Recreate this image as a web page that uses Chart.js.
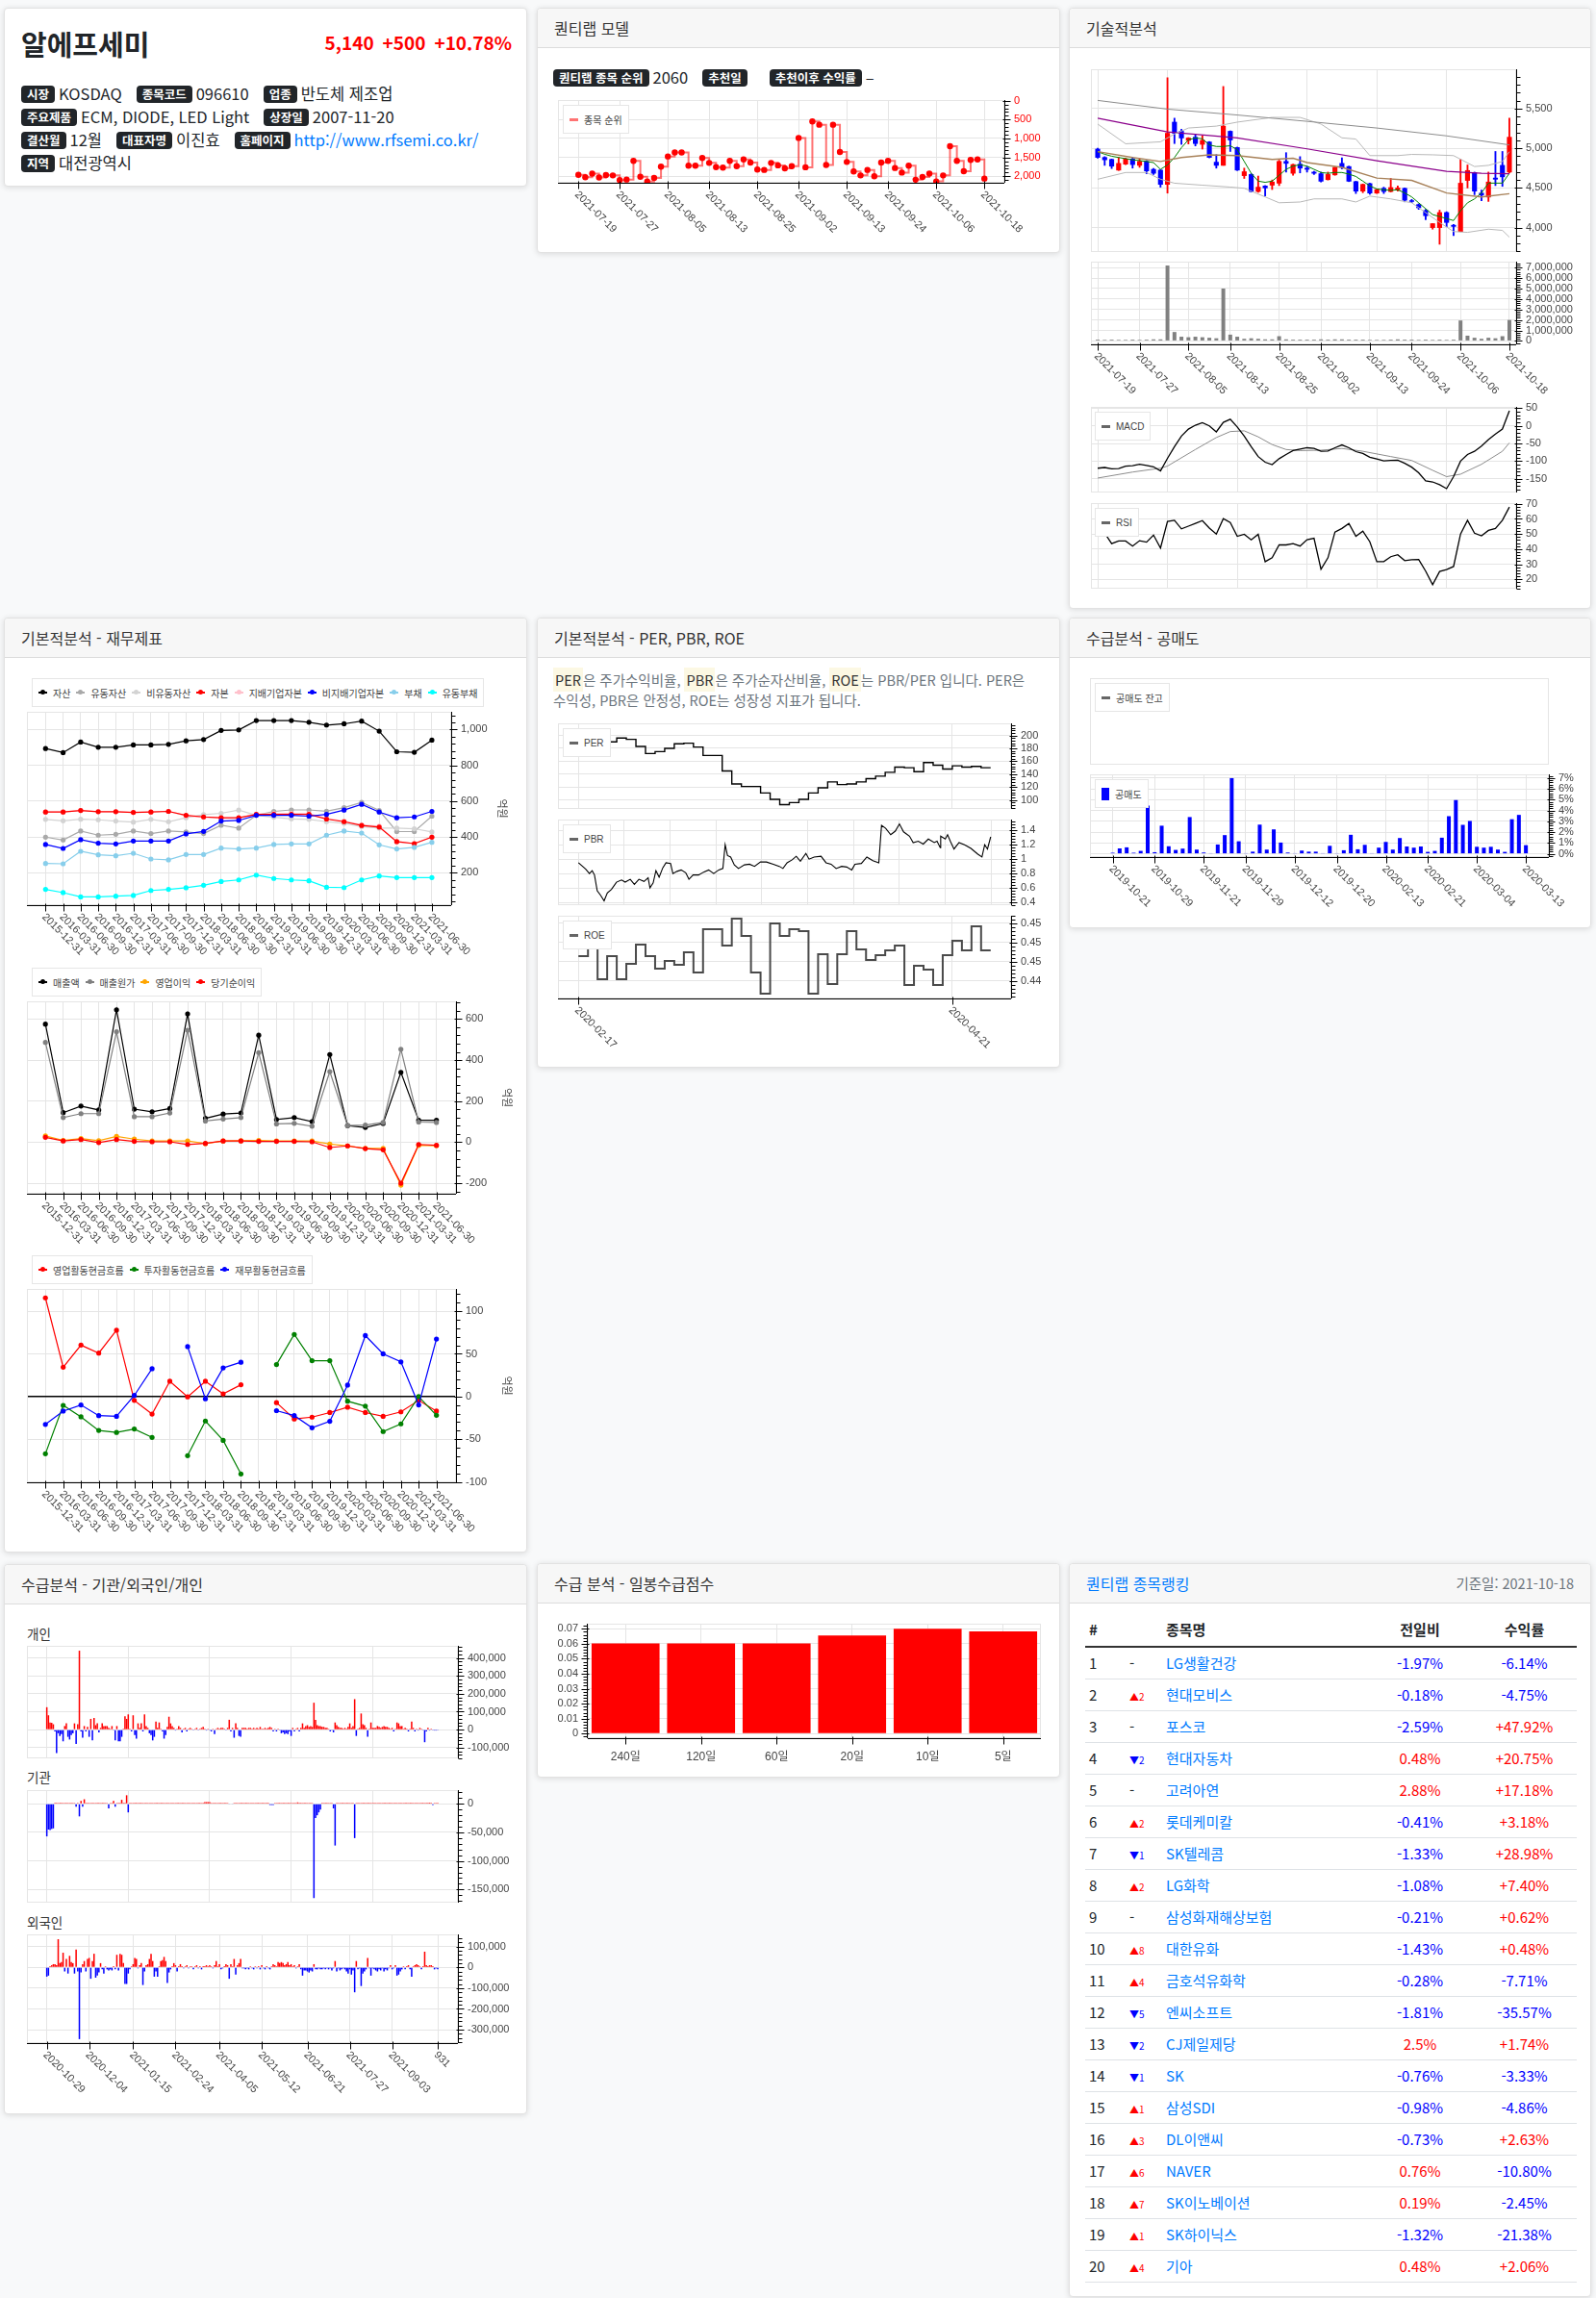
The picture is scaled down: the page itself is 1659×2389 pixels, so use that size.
<!DOCTYPE html>
<html lang="ko">
<head>
<meta charset="utf-8">
<title>알에프세미 - 종목분석</title>
<script src="https://cdn.jsdelivr.net/npm/chart.js@4.4.1/dist/chart.umd.min.js"></script>
<style>
  * { box-sizing: border-box; }
  body { margin: 0; background: #f8f9fa; font-family: "Noto Sans CJK KR", "Noto Sans", sans-serif; color: #212529; }
  #page { position: relative; width: 1659px; height: 2389px; }
  .card { position: absolute; background: #fff; border: 1px solid #e2e2e2; border-radius: 4px; box-shadow: 0 1px 6px rgba(0,0,0,.13); }
  .hd { height: 41px; line-height: 40px; padding: 0 17px; background: #f7f7f7; border-bottom: 1px solid #dcdcdc; font-size: 16px; color: #333; border-radius: 4px 4px 0 0; }
  .hd .rt { float: right; color: #6c757d; font-size: 14.5px; }
  .bd { display: inline-block; background: #212529; color: #fff; font-weight: 700; font-size: 12.5px; line-height: 18px; padding: 0 6px; border-radius: 4px; vertical-align: 1px; }
  .v { font-size: 16.5px; margin: 0 15px 0 4px; color: #212529; text-decoration: none; }
  a.v { color: #007bff; }
  .cv { position: absolute; }
  .lg { position: absolute; background: #fff; border: 1px solid #e6e6e6; height: 30px; padding: 0 6px; display: flex; align-items: center; gap: 6px; font-size: 10px; font-family: "Liberation Sans", "Noto Sans CJK KR", sans-serif; color: #444; white-space: nowrap; }
  .it { display: flex; align-items: center; }
  .sw { display: inline-block; margin-right: 6px; background: var(--c); position: relative; }
  .sw.line { width: 9px; height: 3px; }
  .sw.dot { width: 9px; height: 1.5px; }
  .sw.dot::after { content: ''; position: absolute; left: 2px; top: -2px; width: 5px; height: 5px; border-radius: 50%; background: var(--c); }
  .sw.rect { width: 8px; height: 13px; }
  .sub { position: absolute; left: 23px; font-size: 13.5px; color: #333; line-height: 20px; }
  .desc { position: absolute; left: 16px; top: 53px; font-size: 14.5px; line-height: 21px; color: #6c757d; white-space: nowrap; }
  .mk { background: #fcf8e3; color: #333; padding: 2px 2px; }
  table.rk { position: absolute; left: 16px; top: 41px; width: 511px; border-collapse: collapse; font-size: 15px; table-layout: fixed; }
  table.rk th { height: 45px; vertical-align: bottom; padding: 0 0 7px 0; border-bottom: 2px solid #333; font-weight: 700; text-align: left; }
  table.rk td { height: 33px; padding: 0; border-bottom: 1px solid #dee2e6; }
  table.rk .c { text-align: center; }
  table.rk .nm { color: #007bff; }
  .mv { font-size: 10px; }
</style>
</head>
<body>
<div id="page">

  <div class="card" id="c1" style="left:4px;top:8px;width:544px;height:186px">
    <div style="position:absolute;left:17px;top:16px;font-size:29px;font-weight:700;line-height:40px">알에프세미</div>
    <div style="position:absolute;right:15px;top:20px;font-size:19px;font-weight:700;line-height:30px;color:#ff0000">5,140<span style="margin-left:9px">+500</span><span style="margin-left:9px">+10.78%</span></div>
    <div style="position:absolute;left:17px;top:76px;line-height:24px;white-space:nowrap">
      <div><b class="bd">시장</b><span class="v">KOSDAQ</span><b class="bd">종목코드</b><span class="v">096610</span><b class="bd">업종</b><span class="v">반도체 제조업</span></div>
      <div><b class="bd">주요제품</b><span class="v">ECM, DIODE, LED Light</span><b class="bd">상장일</b><span class="v">2007-11-20</span></div>
      <div><b class="bd">결산월</b><span class="v">12월</span><b class="bd">대표자명</b><span class="v">이진효</span><b class="bd">홈페이지</b><a class="v" href="#">http://www.rfsemi.co.kr/</a></div>
      <div><b class="bd">지역</b><span class="v">대전광역시</span></div>
    </div>
  </div>

  <div class="card" id="c2" style="left:558px;top:8px;width:544px;height:255px">
    <div class="hd">퀀티랩 모델</div>
    <div style="position:absolute;left:16px;top:59px;line-height:24px;white-space:nowrap">
      <b class="bd">퀀티랩 종목 순위</b><span class="v">2060</span><b class="bd">추천일</b><span class="v"></span><b class="bd" style="margin-left:4px">추천이후 수익률</b><span class="v">–</span>
    </div>
  </div>

  <div class="card" id="c3" style="left:1111px;top:8px;width:543px;height:625px">
    <div class="hd">기술적분석</div>
  </div>

  <div class="card" id="c4" style="left:4px;top:642px;width:544px;height:972px">
    <div class="hd">기본적분석 - 재무제표</div>
  </div>

  <div class="card" id="c5" style="left:558px;top:642px;width:544px;height:468px">
    <div class="hd">기본적분석 - PER, PBR, ROE</div>
    <div class="desc"><span class="mk">PER</span>은 주가수익비율, <span class="mk">PBR</span>은 주가순자산비율, <span class="mk">ROE</span>는 PBR/PER 입니다. PER은<br>수익성, PBR은 안정성, ROE는 성장성 지표가 됩니다.</div>
  </div>

  <div class="card" id="c6" style="left:1111px;top:642px;width:543px;height:323px">
    <div class="hd">수급분석 - 공매도</div>
  </div>

  <div class="card" id="c7" style="left:4px;top:1626px;width:544px;height:572px">
    <div class="hd">수급분석 - 기관/외국인/개인</div>
    <div class="sub" style="top:61px">개인</div>
    <div class="sub" style="top:210px">기관</div>
    <div class="sub" style="top:361px">외국인</div>
  </div>

  <div class="card" id="c8" style="left:558px;top:1625px;width:544px;height:223px">
    <div class="hd">수급 분석 - 일봉수급점수</div>
  </div>

  <div class="card" id="c9" style="left:1111px;top:1625px;width:543px;height:763px">
    <div class="hd"><span style="color:#007bff">퀀티랩 종목랭킹</span><span class="rt">기준일: 2021-10-18</span></div>
    <table class="rk" id="rank">
      <colgroup><col style="width:42px"><col style="width:42px"><col style="width:210px"><col style="width:108px"><col style="width:109px"></colgroup>
      <thead><tr><th style="padding-left:4px">#</th><th></th><th>종목명</th><th class="c">전일비</th><th class="c">수익률</th></tr></thead>
      <tbody></tbody>
    </table>
  </div>

</div>
<script>
// ---------------- data ----------------
// trading-day axis 2021-07-19 .. 2021-10-18 (60 sessions)
const tradeTicks = [0, 6, 13, 19, 26, 32, 39, 45, 52, 59];
const tradeTickLabels = ['2021-07-19', '2021-07-27', '2021-08-05', '2021-08-13', '2021-08-25', '2021-09-02', '2021-09-13', '2021-09-24', '2021-10-06', '2021-10-18'];
const tradeGrid = [0, 10, 20, 30, 40, 50];

// 퀀티랩 종목 순위
const rankSeries = [1960, 2025, 1930, 2030, 1965, 1975, 2100, 2085, 1590, 2010,
  2140, 2040, 1745, 1475, 1370, 1370, 1720, 1720, 1515, 1645,
  1755, 1770, 1590, 1730, 1555, 1635, 1820, 1830, 1645, 1710,
  1790, 1730, 985, 1760, 550, 635, 1700, 635, 1355, 1620,
  1870, 1975, 1830, 2000, 1635, 1590, 1780, 1900, 1720, 2090,
  2015, 1930, 2135, 1975, 1205, 1590, 1865, 1565, 1555, 2060];

// candles
const candleOpen = [4990, 4885, 4860, 4725, 4800, 4865, 4785, 4835, 4735, 4725,
  4545, 5330, 5215, 5100, 5140, 5050, 5080, 4825, 4785, 5215,
  5010, 4655, 4670, 4455, 4525, 4535, 4560, 4835, 4685, 4800,
  4750, 4700, 4680, 4605, 4665, 4810, 4770, 4580, 4460, 4555,
  4435, 4495, 4455, 4475, 4495, 4340, 4290, 4215, 4000, 4000,
  4190, 4030, 3950, 4595, 4695, 4435, 4385, 4625, 4785, 4700];
const candleClose = [4885, 4855, 4775, 4810, 4865, 4795, 4835, 4715, 4685, 4545,
  5190, 5190, 5130, 5130, 5060, 5100, 4885, 4785, 5280, 5105,
  4725, 4705, 4455, 4510, 4500, 4575, 4835, 4810, 4795, 4750,
  4735, 4685, 4585, 4670, 4760, 4760, 4585, 4460, 4545, 4435,
  4480, 4455, 4505, 4500, 4345, 4330, 4250, 4150, 4050, 4190,
  4065, 4015, 4560, 4720, 4460, 4410, 4575, 4610, 4640, 5140];
const candleHigh = [5000, 4895, 4865, 4885, 4875, 4885, 4870, 4845, 4745, 4730,
  5890, 5380, 5240, 5135, 5180, 5160, 5085, 4920, 5780, 5220,
  5015, 4750, 4680, 4650, 4530, 4600, 4850, 4945, 4800, 4895,
  4770, 4710, 4700, 4700, 4765, 4880, 4775, 4585, 4550, 4560,
  4485, 4510, 4620, 4525, 4500, 4355, 4300, 4230, 4050, 4220,
  4200, 4040, 4860, 4790, 4700, 4475, 4700, 4960, 4960, 5380];
const candleLow = [4875, 4785, 4745, 4720, 4795, 4750, 4760, 4680, 4670, 4510,
  4435, 5060, 5050, 5055, 5030, 4990, 4880, 4750, 4785, 4960,
  4720, 4620, 4450, 4445, 4400, 4480, 4530, 4700, 4660, 4690,
  4700, 4670, 4575, 4600, 4660, 4740, 4580, 4430, 4440, 4420,
  4430, 4430, 4450, 4460, 4325, 4315, 4230, 4100, 3980, 3790,
  4010, 3900, 3950, 4500, 4415, 4340, 4330, 4530, 4520, 4690];
const ma5 = [4958, 4925, 4900, 4884, 4870, 4855, 4845, 4834, 4820, 4735,
  4790, 4884, 5008, 5107, 5130, 5120, 5043, 5023, 5023, 5033,
  4983, 4834, 4685, 4586, 4571, 4586, 4660, 4735, 4775, 4794,
  4775, 4735, 4695, 4685, 4695, 4695, 4675, 4645, 4586, 4526,
  4487, 4477, 4470, 4477, 4437, 4387, 4313, 4238, 4164, 4139,
  4114, 4089, 4213, 4313, 4362, 4437, 4561, 4561, 4561, 4685];
const ma20X = [0, 5, 9, 12, 16, 20, 25, 28, 30, 35, 40, 45, 50, 55, 59];
const ma20 = [4958, 4884, 4834, 4884, 4918, 4908, 4859, 4874, 4820, 4760, 4625, 4596, 4437, 4387, 4427];
const ma60X = [0, 10, 20, 30, 40, 50, 55, 59];
const ma60 = [5380, 5206, 5132, 4993, 4844, 4710, 4685, 4680];
const ma120X = [0, 10, 20, 30, 40, 50, 59];
const ma120 = [5604, 5494, 5420, 5340, 5256, 5157, 5043];
const bbUpX = [0, 4, 9, 11, 13, 17, 20, 25, 29, 32, 35, 37, 39, 43, 45, 48, 51, 54, 56, 58, 59];
const bbUp = [5306, 5057, 5082, 5180, 5256, 5280, 5330, 5390, 5390, 5306, 5132, 5117, 4908, 4908, 4923, 4918, 4908, 4770, 4785, 4834, 4958];
const bbLoX = [0, 4, 7, 9, 11, 15, 19, 21, 24, 26, 29, 31, 35, 37, 39, 42, 45, 47, 49, 51, 53, 56, 58, 59];
const bbLo = [4610, 4695, 4695, 4610, 4560, 4535, 4511, 4496, 4387, 4313, 4323, 4362, 4362, 4323, 4397, 4362, 4313, 4189, 4065, 3950, 3940, 3980, 3965, 3880];
// volume, million shares
const volumeM = [0.12, 0.1, 0.12, 0.1, 0.1, 0.12, 0.1, 0.12, 0.15, 0.15,
  7.2, 0.85, 0.4, 0.35, 0.4, 0.35, 0.3, 0.25, 5.0, 0.6,
  0.4, 0.2, 0.25, 0.2, 0.15, 0.15, 0.45, 0.15, 0.12, 0.12,
  0.12, 0.12, 0.15, 0.12, 0.15, 0.15, 0.12, 0.12, 0.12, 0.1,
  0.1, 0.1, 0.12, 0.15, 0.12, 0.12, 0.1, 0.12, 0.1, 0.12,
  0.1, 0.12, 1.95, 0.5, 0.3, 0.2, 0.3, 0.25, 0.45, 2.0];
const macd = [-120, -118, -122, -121, -114, -113, -109, -112, -116, -128,
  -92, -59, -29, -9, 2, 9, 0, -17, 10, 19,
  -3, -29, -59, -87, -103, -110, -93, -81, -70, -66,
  -62, -64, -72, -71, -62, -54, -62, -73, -78, -89,
  -94, -99, -98, -97, -106, -117, -133, -156, -159, -167,
  -178, -144, -100, -81, -72, -57, -39, -23, -9, 43];
const signalX = [0, 5, 9, 10, 14, 17, 19, 21, 23, 25, 27, 29, 32, 35, 38, 42, 45, 48, 50, 52, 55, 58, 59];
const signal = [-148, -131, -120, -114, -67, -33, -16, -14, -31, -53, -67, -70, -69, -64, -72, -87, -98, -126, -144, -137, -109, -72, -48];
const rsi = [54.5, 50.6, 43.6, 45.4, 45.4, 42, 45.6, 44.6, 49.3, 40.7,
  58.3, 59.1, 53.4, 55.2, 57, 58.9, 53.9, 50, 60.2, 57.6,
  48.5, 49.8, 46.2, 49.8, 31.7, 34.3, 42.8, 42.8, 43.6, 42,
  46.2, 47.2, 26.7, 34.3, 51.3, 53.7, 57, 48.5, 51.9, 44.9,
  31.7, 31.7, 35, 36.3, 32.4, 33, 33.2, 25.4, 16.4, 25.2,
  26.5, 28.5, 50, 59.1, 50.6, 48.8, 52.4, 53.7, 59.1, 67.9];

// 재무제표 (억원), quarterly
const quarters = ['2015-12-31', '2016-03-31', '2016-06-30', '2016-09-30', '2016-12-31', '2017-03-31', '2017-06-30', '2017-09-30', '2017-12-31', '2018-03-31', '2018-06-30', '2018-09-30', '2018-12-31', '2019-03-31', '2019-06-30', '2019-09-30', '2019-12-31', '2020-03-31', '2020-06-30', '2020-09-30', '2020-12-31', '2021-03-31', '2021-06-30'];
const asset = [894, 871, 930, 901, 901, 914, 914, 917, 937, 944, 995, 998, 1050, 1050, 1050, 1041, 1025, 1032, 1047, 991, 876, 873, 941];
const curAsset = [399, 383, 433, 410, 415, 433, 419, 433, 428, 419, 465, 449, 521, 543, 551, 551, 544, 564, 593, 548, 430, 430, 516];
const nonCurAsset = [498, 490, 499, 496, 489, 483, 498, 485, 507, 525, 532, 550, 521, 510, 501, 498, 485, 476, 458, 449, 449, 446, 428];
const equity = [539, 539, 548, 541, 541, 537, 539, 543, 521, 512, 507, 507, 526, 526, 526, 526, 500, 485, 464, 455, 374, 363, 399];
const ctrlEquity = [539, 539, 548, 541, 541, 537, 539, 543, 518, 510, 505, 505, 528, 530, 532, 530, 503, 488, 467, 460, 372, 362, 400];
const nonCtrlEquity = [358, 336, 385, 365, 361, 377, 377, 377, 417, 431, 489, 492, 521, 521, 521, 516, 526, 550, 582, 539, 507, 512, 543];
const liab = [252, 250, 320, 300, 295, 309, 277, 272, 302, 302, 338, 333, 338, 358, 361, 361, 410, 433, 422, 356, 333, 342, 370];
const curLiab = [107, 89, 65, 65, 69, 73, 101, 107, 116, 130, 151, 160, 187, 168, 160, 155, 119, 117, 160, 182, 173, 173, 173];
const sales = [575, 144, 176, 157, 645, 161, 148, 164, 625, 116, 137, 142, 521, 111, 120, 100, 427, 81, 72, 91, 340, 107, 107];
const cogs = [486, 120, 139, 139, 538, 124, 124, 142, 545, 103, 113, 120, 436, 89, 92, 78, 344, 81, 83, 96, 453, 98, 96];
const opIncome = [31, 9, 18, 7, 28, 15, 6, 6, 6, -7, 6, 7, 9, 6, 6, 6, -9, -18, -30, -30, -209, -15, -17];
const netIncome = [24, 6, 13, -2, 13, 4, 2, 2, -11, -6, 6, 6, 4, 4, 4, 2, -26, -18, -31, -37, -200, -11, -15];
const cfOper = [115.6, 34.4, 60.3, 50.9, 77.7, -4.5, -20.5, 17.9, -0.4, 17.9, 3.1, 13.8, null, -7.1, -26.3, -24.1, -18.7, -12.5, -18.7, -23.2, -17.9, -4.5, -17];
const cfInvest = [-67, -10.3, -23.7, -39.7, -42, -38, -47.8, null, -69.2, -28.6, -51.3, -90.6, null, 37.5, 72.8, 42, 42, -5.4, -11.2, -41, -32, 0, -21.9];
const cfFinance = [-32.6, -17, -9.8, -22.3, -23.2, 1.3, 32.6, null, 58.5, -2.7, 33.5, 40.2, null, -16.5, -22.3, -36.6, -29, 13.4, 71.4, 50, 40.6, -9.8, 67.4];

// PER / ROE steps (one value per step), PBR points
const valTicks = [0, 39];
const valTickLabels = ['2020-02-17', '2020-04-21'];
const perSteps = [204, 202, 200, 190, 196, 194, 183, 172, 175, 180, 187, 188, 182, 169, 169, 145, 125, 121, 121, 111,
  101, 93, 96, 101, 111, 119, 128, 124, 125, 128, 133, 137, 143, 151, 150, 144, 158, 154, 148, 153, 151, 152, 150];
const roeSteps = [0.4466, 0.4481, 0.4442, 0.4466, 0.4442, 0.4458, 0.4478, 0.4466, 0.4453, 0.4461,
  0.4457, 0.4470, 0.4449, 0.4494, 0.4494, 0.4477, 0.4505, 0.4487, 0.4449, 0.4427,
  0.4500, 0.4487, 0.4494, 0.4492, 0.4427, 0.4468, 0.4437, 0.4468, 0.4492, 0.4473,
  0.4462, 0.4467, 0.4472, 0.4477, 0.4436, 0.4456, 0.4452, 0.4436, 0.4467, 0.4482,
  0.4472, 0.4497, 0.4472];
const pbrX = [0, 0.9, 1.6, 2.4, 3.0, 3.5, 4.1, 4.8, 5.6, 6.3, 7.2, 8.3, 9.4, 10.2, 11.3, 12.2, 13.2, 14.3, 15.2, 15.6,
  16.3, 16.9, 17.6, 18.4, 19.1, 20.1, 20.6, 21.5, 22.4, 23.4, 24.1, 25.0, 26.2, 27.3, 28.4, 29.5, 30.6, 31.5, 32.0, 32.5,
  33.2, 34.0, 34.9, 36.2, 37.3, 38.4, 39.7, 41.0, 42.5, 43.8, 44.6, 45.5, 46.6, 47.5, 48.4, 49.6, 50.3, 51.4, 52.9, 54.0,
  55.1, 56.2, 57.4, 58.5, 59.6, 60.3, 61.7, 62.9, 64.2, 65.5, 66.1, 67.0, 68.1, 69.1, 70.0, 70.9, 72.2, 73.0, 74.1, 75.2,
  76.3, 77.6, 78.2, 78.9, 79.0, 80.0, 80.5, 81.1, 81.9, 83.0, 84.2, 85.6, 87.1, 88.0, 88.6, 89.2, 89.9];
const pbrY = [0.95, 0.90, 0.86, 0.80, 0.84, 0.78, 0.56, 0.50, 0.42, 0.53, 0.58, 0.68, 0.71, 0.68, 0.72, 0.65, 0.72, 0.69, 0.74, 0.60,
  0.67, 0.84, 0.75, 0.88, 0.95, 0.94, 0.80, 0.83, 0.85, 0.81, 0.72, 0.78, 0.78, 0.82, 0.85, 0.80, 0.85, 0.87, 1.20, 1.05,
  1.03, 0.92, 0.87, 0.92, 0.93, 0.90, 0.96, 0.96, 0.93, 0.90, 0.87, 0.95, 0.99, 1.04, 0.97, 1.08, 1.00, 1.03, 1.04, 0.95,
  0.93, 0.87, 0.90, 0.89, 0.85, 0.93, 0.94, 1.03, 0.98, 0.95, 1.47, 1.43, 1.34, 1.39, 1.49, 1.38, 1.32, 1.23, 1.25, 1.21,
  1.28, 1.23, 1.25, 1.16, 1.32, 1.28, 1.34, 1.25, 1.14, 1.23, 1.20, 1.15, 1.07, 1.03, 1.20, 1.14, 1.31];

// 공매도 비중 (%)
const shortTicks = [0, 6, 13, 19, 26, 32, 39, 45, 52, 59];
const shortTickLabels = ['2019-10-21', '2019-10-29', '2019-11-21', '2019-11-29', '2019-12-12', '2019-12-20', '2020-02-13', '2020-02-21', '2020-03-04', '2020-03-13'];
const shortRatio = [0.1, 0.5, 0.6, 0.1, 0.27, 4.46, 0.15, 2.6, 0.7, 0.36,
  0.48, 3.4, 0.39, 0.12, 0.06, 0.86, 1.73, 7.0, 1.16, 0.06,
  0.2, 2.7, 0.39, 2.26, 1.04, 0.12, 0.06, 0.3, 0.2, 0.2,
  0.06, 0.74, 0.06, 0.33, 1.76, 0.42, 0.83, 0.06, 0.57, 1.1,
  0.39, 1.46, 0.68, 0.57, 0.68, 0.18, 0.27, 1.49, 3.48, 4.97,
  2.68, 3.04, 0.65, 0.57, 0.65, 0.39, 0.18, 3.2, 3.6, 0.8];

// 순매수 (천주), daily from 2020-10-29
const flowTicks = [0, 26, 53, 79, 106, 132, 160, 186, 212, 240];
const flowTickLabels = ['2020-10-29', '2020-12-04', '2021-01-15', '2021-02-24', '2021-04-05', '2021-05-12', '2021-06-21', '2021-07-27', '2021-09-03', '931'];
const flowGrid = [0, 50, 100, 150, 200];
const flowIndiv = [125, 80, 40, 38, 30, -10, -130, -20, -35, -25,
  -65, 20, 35, -40, -55, -30, -20, 35, -80, 30,
  440, -10, -45, 20, -10, 15, -40, 60, -60, 65,
  25, 35, -15, 10, 35, 20, 20, 20, 10, 5,
  20, -5, -60, 20, -65, -65, -40, 5, 75, 60,
  85, 5, -10, 80, -30, -50, 35, 10, 35, -10,
  85, 20, 10, -20, -30, -60, -40, 45, 10, 40,
  5, -10, -50, -30, 15, 72, 35, 20, 10, -5,
  5, 20, 10, -15, 5, 10, -10, 5, 10, 5,
  -5, 5, 10, -5, 5, 10, 15, 5, -5, 5,
  -5, -10, 5, -25, 5, 10, 5, 10, 10, 5,
  -5, 10, 55, -10, 10, -45, 35, 10, -35, -40,
  10, 10, 10, 5, 10, 10, 5, 10, 5, 10,
  5, 15, 5, 5, 10, 5, 10, 15, 10, -10,
  5, -10, 5, -5, -20, -15, -25, -20, -25, -10,
  -35, 10, -10, 5, 10, -10, 10, 35, 10, 20,
  25, 15, 20, 15, 150, 55, 25, 20, 20, 15,
  15, 10, 10, 5, -10, -5, -15, 40, 25, 15,
  10, 10, 5, 10, 5, 15, 35, 10, 20, 170,
  -35, 5, 10, 90, 30, 25, 10, -40, 5, 40,
  10, 10, 10, 20, 15, 10, 15, 20, 15, 15,
  10, 5, 10, -10, 5, 40, 35, 20, 20, 5,
  10, 5, -10, 5, 45, 10, -10, 5, -5, 10,
  5, -5, -70, -10, 10, -5, 5, -5, -5, -5,
  -5];
const flowInst = [-57, -45, -46, -44, -43, 1.5, 1.5, 1.5, 1.5, 1.5,
  1.5, 1.5, 1.5, 1.5, 1.5, 1.5, 1.5, 1.5, -5, 1.5,
  -22, 5, -5, 8, 1.5, 1.5, 1.5, 1.5, 1.5, 1.5,
  1.5, 1.5, 1.5, 1.5, 1.5, 1.5, 1.5, 1.5, -8, 1.5,
  1.5, 5, -5, 1.5, 1.5, 1.5, 7, 1.5, 1.5, 15,
  -15, 1.5, 1.5, 1.5, 1.5, 1.5, 1.5, 1.5, 1.5, 1.5,
  1.5, 1.5, 1.5, 1.5, 1.5, 1.5, 1.5, 1.5, 1.5, 1.5,
  1.5, 1.5, 1.5, 1.5, 1.5, 1.5, 1.5, 1.5, 1.5, 1.5,
  1.5, 1.5, 1.5, 1.5, 1.5, 1.5, 1.5, 1.5, 1.5, 1.5,
  1.5, 1.5, 1.5, 1.5, 1.5, 1.5, 1.5, 3, 3, 3,
  3, 1.5, 1.5, 1.5, 1.5, 1.5, 1.5, 1.5, 1.5, 1.5,
  1.5, 1.5, -1, -1, -1, 1.5, 1.5, 1.5, 1.5, 1.5,
  1.5, 1.5, 1.5, 1.5, 1.5, 1.5, 1.5, 1.5, 1.5, 1.5,
  1.5, 1.5, 1.5, 1.5, 1.5, 1.5, 1.5, -2, -2, -2,
  1.5, 1.5, 1.5, 1.5, 1.5, 1.5, 1.5, 1.5, 1.5, 1.5,
  1.5, 1.5, 1.5, 1.5, 2.5, 1.5, 1.5, 1.5, 1.5, 1.5,
  1.5, 1.5, 1.5, 1.5, -165, -25, -20, -15, -10, 1.5,
  1.5, 1.5, 1.5, 1.5, 1.5, 1.5, -8, -73, 1.5, 1.5,
  1.5, 1.5, 1.5, 1.5, 1.5, 1.5, 1.5, 1.5, 1.5, -60,
  1.5, 1.5, 1.5, 1.5, 1.5, 1.5, 1.5, 1.5, 1.5, 1.5,
  1.5, 1.5, 1.5, 1.5, 1.5, 1.5, 1.5, 1.5, 1.5, 1.5,
  1.5, 1.5, 1.5, 1.5, 1.5, 1.5, 1.5, 1.5, 1.5, 1.5,
  1.5, 1.5, 1.5, 1.5, 1.5, 1.5, 1.5, 1.5, 1.5, 1.5,
  1.5, 1.5, 1.5, 1.5, 1.5, 2, 1.5, -2, 1.5, 1.5,
  1.5];
const flowForeign = [-45, -40, 5, 10, 15, 15, 10, 135, 20, 25,
  70, -20, 40, -30, 55, 25, 20, -30, 85, -20,
  -345, -25, 15, 30, -20, 40, 45, -55, 30, 65,
  -50, -40, -25, 20, -10, -30, 5, -10, -15, -10,
  -15, 5, -10, 60, -15, 65, 60, 20, -80, -80,
  -30, -10, 5, 15, 45, 40, -5, 10, 20, -85,
  -20, 10, 15, 40, 65, 30, -45, -20, -45, 5,
  30, 35, 50, 30, -75, -25, -10, 5, 20, 10,
  -20, 5, 15, 5, -5, 5, 10, -5, 5, 5,
  -10, 5, 10, -5, 5, -10, 5, 5, 10, 5,
  10, 5, -5, 10, 30, 5, 15, -10, -5, 5,
  15, 10, -55, 15, 5, 40, -35, 10, 20, 40,
  -5, -5, -10, -5, -10, 5, -5, -10, 5, -5,
  5, -10, 10, -5, -10, 5, -5, -10, 5, 15,
  10, 5, 25, 20, 25, 20, 10, 15, 25, 10,
  15, 5, 10, -5, 5, 15, -10, -40, -15, -15,
  -20, -25, -15, -20, 15, -10, -10, -5, -10, -10,
  -5, -10, -5, -10, -5, -15, -5, 30, -20, -5,
  -15, -10, -5, -10, -20, -30, -10, -35, -15, -120,
  30, -10, -5, -90, -30, -20, -10, 45, -5, -40,
  -5, -10, -15, -20, -10, -15, -5, -20, -10, -15,
  -5, 10, -10, -5, 10, -40, -35, -20, -10, 5,
  -10, 5, 10, -10, -45, 5, 10, 15, 10, 5,
  -10, 5, 75, 10, 5, 10, 10, 5, -10, -5,
  -10];

// 일봉수급점수
const scoreLabels = ['240일', '120일', '60일', '20일', '10일', '5일'];
const scoreValues = [0.0603, 0.0603, 0.0603, 0.0656, 0.0700, 0.0682];

// 종목랭킹
const rankNames = ['LG생활건강', '현대모비스', '포스코', '현대자동차', '고려아연', '롯데케미칼', 'SK텔레콤', 'LG화학', '삼성화재해상보험', '대한유화', '금호석유화학', '엔씨소프트', 'CJ제일제당', 'SK', '삼성SDI', 'DL이앤씨', 'NAVER', 'SK이노베이션', 'SK하이닉스', '기아'];
const rankMoves = [0, 2, 0, -2, 0, 2, -1, 2, 0, 8, 4, -5, -2, -1, 1, 3, 6, 7, 1, 4];
const rankDayChg = [-1.97, -0.18, -2.59, 0.48, 2.88, -0.41, -1.33, -1.08, -0.21, -1.43, -0.28, -1.81, 2.5, -0.76, -0.98, -0.73, 0.76, 0.19, -1.32, 0.48];
const rankReturn = [-6.14, -4.75, 47.92, 20.75, 17.18, 3.18, 28.98, 7.40, 0.62, 0.48, -7.71, -35.57, 1.74, -3.33, -4.86, 2.63, -10.80, -2.45, -21.38, 2.06];

// ---------------- helpers ----------------
const idxPts = ys => ys.map((y, i) => ({ x: i, y }));
const xyPts = (xs, ys) => xs.map((x, i) => ({ x, y: ys[i] }));
const stepPts = ys => idxPts(ys).concat([{ x: ys.length, y: ys[ys.length - 1] }]);
const fmtNum = v => v.toLocaleString('en-US');
const signColors = ys => ys.map(v => (v >= 0 ? '#ff0000' : '#0000ff'));

Chart.defaults.font.family = '"Liberation Sans", Arial, "Noto Sans CJK KR", sans-serif';
Chart.defaults.font.size = 11;
Chart.defaults.color = '#444';

// axis decorations in the style of the original plots (outline, axis line, major/minor ticks, slanted labels)
const AX = {};
Chart.register({
  id: 'bokeh',
  beforeDatasetsDraw(chart) {
    const a = chart.chartArea, ctx = chart.ctx;
    ctx.save();
    ctx.strokeStyle = '#e5e5e5';
    ctx.lineWidth = 1;
    ctx.strokeRect(Math.round(a.left) + 0.5, Math.round(a.top) + 0.5, Math.round(a.width) - 1, Math.round(a.height) - 1);
    ctx.restore();
  },
  afterDraw(chart) {
    const spec = AX[chart.canvas.id];
    if (!spec) return;
    const a = chart.chartArea, ctx = chart.ctx;
    const seg = (x1, y1, x2, y2) => { ctx.beginPath(); ctx.moveTo(x1, y1); ctx.lineTo(x2, y2); ctx.stroke(); };
    ctx.save();
    ctx.strokeStyle = '#000';
    ctx.lineWidth = 1;
    if (spec.y) {
      const s = chart.scales.y, left = spec.y.side === 'left';
      const ax = left ? Math.floor(a.left) - 0.5 : Math.round(a.right) + 0.5, d = left ? -1 : 1;
      seg(ax, a.top, ax, a.bottom);
      const tick = (v, len) => {
        const p = Math.round(s.getPixelForValue(v)) + 0.5;
        if (p < a.top - 1 || p > a.bottom + 1) return;
        seg(ax - (len > 4 ? 2 : 0) * d, p, ax + len * d, p);
      };
      s.ticks.forEach(t => tick(t.value, 6));
      if (spec.y.minor && s.ticks.length > 1) {
        const v0 = s.ticks[0].value, st = (s.ticks[1].value - v0) / spec.y.minor;
        const lo = Math.min(s.min, s.max), hi = Math.max(s.min, s.max);
        const n0 = Math.ceil((lo - v0) / st - 1e-6), n1 = Math.floor((hi - v0) / st + 1e-6);
        for (let n = n0; n <= n1; n++) if (n % spec.y.minor) tick(v0 + n * st, 4);
      }
    }
    if (spec.x) {
      const s = chart.scales.x, ay = Math.round(a.bottom) + 0.5;
      seg(a.left, ay, a.right, ay);
      s.ticks.forEach(t => { const p = Math.round(s.getPixelForValue(t.value)) + 0.5; seg(p, ay - 2, p, ay + 6); });
      if (spec.x.labels) {
        ctx.fillStyle = '#444';
        ctx.font = '11px "Liberation Sans", Arial, sans-serif';
        ctx.textAlign = 'left';
        ctx.textBaseline = 'middle';
        s.ticks.forEach((t, i) => {
          const p = s.getPixelForValue(t.value);
          ctx.save();
          ctx.translate(p - 2, ay + 10);
          ctx.rotate(Math.PI / 4);
          ctx.fillText(spec.x.labels[i], 0, 0);
          ctx.restore();
        });
      }
    }
    ctx.restore();
  }
});

const PAD = 10;
function mount(card, id, plot, ext) {
  const l = ext.l || 0, r = ext.r || 0, b = ext.b || 0;
  const el = document.createElement('div');
  el.className = 'cv';
  el.style.left = (plot[0] - PAD - l) + 'px';
  el.style.top = (plot[1] - PAD) + 'px';
  el.style.width = (plot[2] + l + r + 2 * PAD) + 'px';
  el.style.height = (plot[3] + b + 2 * PAD) + 'px';
  const c = document.createElement('canvas');
  c.id = id;
  el.appendChild(c);
  document.getElementById(card).appendChild(el);
  return c;
}

function yScale(o) {
  return {
    type: 'linear', position: o.left ? 'left' : 'right', min: o.min, max: o.max, reverse: !!o.reverse,
    afterBuildTicks: s => { s.ticks = o.ticks.map(v => ({ value: v })); },
    afterFit: s => { s.width = o.w; s.paddingTop = 0; s.paddingBottom = 0; },
    grid: {
      drawTicks: false,
      color: o.zeroLine ? c => (c.tick && c.tick.value === 0 ? '#000' : '#e5e5e5') : '#e5e5e5',
      lineWidth: o.zeroLine ? c => (c.tick && c.tick.value === 0 ? 1.6 : 1) : 1
    },
    border: { display: false },
    ticks: { padding: 10, autoSkip: false, color: o.color || '#444', callback: o.fmt || fmtNum },
    title: o.title
      ? { display: true, text: o.title, color: '#444', padding: 0, font: { size: 11, family: '"Noto Sans CJK KR", sans-serif' } }
      : { display: false }
  };
}
function xScale(o) {
  return {
    type: 'linear', min: o.min, max: o.max, offset: false,
    afterBuildTicks: s => { s.ticks = o.ticks.map(v => ({ value: v })); },
    afterFit: s => { s.height = o.h || 0; s.paddingLeft = 0; s.paddingRight = 0; },
    grid: { drawTicks: false, color: '#e5e5e5', offset: false },
    border: { display: false },
    ticks: { display: false }
  };
}
function make(card, id, plot, ext, axes, config) {
  const canvas = mount(card, id, plot, ext);
  AX[id] = axes;
  config.options = Object.assign({
    responsive: true, maintainAspectRatio: false, animation: false, events: [],
    layout: { padding: PAD },
    plugins: { legend: { display: false }, tooltip: { enabled: false } }
  }, config.options);
  return new Chart(canvas, config);
}
function legend(card, left, top, kind, items) {
  const d = document.createElement('div');
  d.className = 'lg';
  d.style.left = left + 'px';
  d.style.top = top + 'px';
  items.forEach(([name, color]) => {
    const it = document.createElement('span');
    it.className = 'it';
    const sw = document.createElement('i');
    sw.className = 'sw ' + kind;
    sw.style.setProperty('--c', color);
    it.appendChild(sw);
    it.appendChild(document.createTextNode(name));
    d.appendChild(it);
  });
  document.getElementById(card).appendChild(d);
}
const line = (data, color, extra) => Object.assign({ type: 'line', data, borderColor: color, borderWidth: 1, pointRadius: 0 }, extra || {});

// ---------------- 퀀티랩 모델 ----------------
make('c2', 'quant', [21, 95, 464, 86], { r: 45, b: 58 }, { y: { minor: 5 }, x: { labels: tradeTickLabels } }, {
  type: 'line',
  data: { datasets: [line(idxPts(rankSeries), 'rgba(255,0,0,0.55)', { borderWidth: 2, stepped: true, pointRadius: 3.2, pointBackgroundColor: '#ff0000', pointBorderWidth: 0 })] },
  options: { scales: {
    x: xScale({ min: -2.97, max: 61.9, ticks: tradeTicks, h: 58 }),
    y: yScale({ min: -17, max: 2170, reverse: true, ticks: [0, 500, 1000, 1500, 2000], w: 45, color: '#ff0000' })
  } }
});
legend('c2', 26, 100, 'line', [['종목 순위', 'rgba(255,0,0,0.55)']]);

// ---------------- 기술적분석 ----------------
const candleColors = candleClose.map((c, i) => (c >= candleOpen[i] ? '#ff0000' : '#0000ff'));
make('c3', 'candle', [22, 63, 442, 190], { r: 70 }, { y: { minor: 5 } }, {
  type: 'bar',
  data: { datasets: [
    line(xyPts(ma120X, ma120), '#8c8c8c', { order: 1 }),
    line(xyPts(bbUpX, bbUp), '#b8b8b8', { order: 1 }),
    line(xyPts(bbLoX, bbLo), '#b8b8b8', { order: 1 }),
    line(xyPts(ma60X, ma60), '#8b008b', { order: 1, borderWidth: 1.2 }),
    line(xyPts(ma20X, ma20), '#a8825a', { order: 1, borderWidth: 1.4 }),
    line(idxPts(ma5), '#008000', { order: 1 }),
    { type: 'bar', data: candleOpen.map((_, i) => ({ x: i, y: [candleLow[i], candleHigh[i]] })), backgroundColor: candleColors, barThickness: 1.2, grouped: false, order: 3 },
    { type: 'bar', data: candleOpen.map((_, i) => ({ x: i, y: [candleOpen[i], candleClose[i]] })), backgroundColor: candleColors, barThickness: 4.5, grouped: false, order: 2 }
  ] },
  options: { scales: {
    x: xScale({ min: -0.97, max: 59.97, ticks: tradeGrid }),
    y: yScale({ min: 3692, max: 5997, ticks: [4000, 4500, 5000, 5500], w: 70 })
  } }
});
make('c3', 'volume', [22, 263, 442, 86], { r: 70, b: 56 }, { y: { minor: 5 }, x: { labels: tradeTickLabels } }, {
  type: 'bar',
  data: { datasets: [{ data: idxPts(volumeM.map(v => v * 1e6)), backgroundColor: '#808080', barPercentage: 0.55, categoryPercentage: 1 }] },
  options: { scales: {
    x: xScale({ min: -0.97, max: 59.97, ticks: tradeTicks, h: 56 }),
    y: yScale({ min: -330000, max: 7570000, ticks: [0, 1e6, 2e6, 3e6, 4e6, 5e6, 6e6, 7e6], w: 70 })
  } }
});
make('c3', 'macd', [22, 414, 442, 89], { r: 70 }, { y: { minor: 5 } }, {
  type: 'line',
  data: { datasets: [
    line(idxPts(macd), '#000', { borderWidth: 1.3 }),
    line(xyPts(signalX, signal), '#8c8c8c')
  ] },
  options: { scales: {
    x: xScale({ min: -0.97, max: 59.97, ticks: tradeGrid }),
    y: yScale({ min: -189, max: 54, ticks: [-150, -100, -50, 0, 50], w: 70 })
  } }
});
legend('c3', 26, 419, 'line', [['MACD', '#666']]);
make('c3', 'rsi', [22, 514, 442, 89], { r: 70 }, { y: { minor: 5 } }, {
  type: 'line',
  data: { datasets: [line(idxPts(rsi), '#000', { borderWidth: 1.3 })] },
  options: { scales: {
    x: xScale({ min: -0.97, max: 59.97, ticks: tradeGrid }),
    y: yScale({ min: 13.8, max: 70.5, ticks: [20, 30, 40, 50, 60, 70], w: 70 })
  } }
});
legend('c3', 26, 519, 'line', [['RSI', '#666']]);

// ---------------- 재무제표 ----------------
const qTicks = quarters.map((_, i) => i);
function finSet(name, ys, color, order) {
  return { label: name, type: 'line', data: idxPts(ys), borderColor: color, backgroundColor: color, borderWidth: 1.2, pointRadius: 2.6, pointBorderWidth: 0, pointBackgroundColor: color, order };
}
const balanceSeries = [['자산', asset, '#000000'], ['유동자산', curAsset, '#a9a9a9'], ['비유동자산', nonCurAsset, '#d3d3d3'], ['자본', equity, '#ff0000'],
  ['지배기업자본', ctrlEquity, '#ffc0cb'], ['비지배기업자본', nonCtrlEquity, '#0000ff'], ['부채', liab, '#87ceeb'], ['유동부채', curLiab, '#00ffff']];
const drawRank = [0, -1, -2, -5, -3, -6, -7, -8];
make('c4', 'fin1', [23, 97, 441, 201], { r: 60, b: 58 }, { y: { minor: 5 }, x: { labels: quarters } }, {
  type: 'line',
  data: { datasets: balanceSeries.map((s, i) => finSet(s[0], s[1], s[2], drawRank[i])) },
  options: { scales: {
    x: xScale({ min: -1.06, max: 23.1, ticks: qTicks, h: 58 }),
    y: yScale({ min: 19, max: 1099, ticks: [200, 400, 600, 800, 1000], w: 60, title: '억원' })
  } }
});
legend('c4', 28, 62, 'dot', balanceSeries.map(s => [s[0], s[2]]));

const incomeSeries = [['매출액', sales, '#000000'], ['매출원가', cogs, '#808080'], ['영업이익', opIncome, '#ffa500'], ['당기순이익', netIncome, '#ff0000']];
make('c4', 'fin2', [23, 398, 446, 200], { r: 60, b: 58 }, { y: { minor: 5 }, x: { labels: quarters } }, {
  type: 'line',
  data: { datasets: incomeSeries.map((s, i) => finSet(s[0], s[1], s[2], -i)) },
  options: { scales: {
    x: xScale({ min: -1.04, max: 23.1, ticks: qTicks, h: 58 }),
    y: yScale({ min: -251, max: 686, ticks: [-200, 0, 200, 400, 600], w: 60, title: '억원' })
  } }
});
legend('c4', 28, 363, 'dot', incomeSeries.map(s => [s[0], s[2]]));

const cashSeries = [['영업활동현금흐름', cfOper, '#ff0000'], ['투자활동현금흐름', cfInvest, '#008000'], ['재무활동현금흐름', cfFinance, '#0000ff']];
make('c4', 'fin3', [23, 697, 446, 201], { r: 60, b: 60 }, { y: { minor: 5 }, x: { labels: quarters } }, {
  type: 'line',
  data: { datasets: cashSeries.map((s, i) => finSet(s[0], s[1], s[2], -i)) },
  options: { scales: {
    x: xScale({ min: -1.04, max: 23.1, ticks: qTicks, h: 60 }),
    y: yScale({ min: -100.4, max: 126, ticks: [-100, -50, 0, 50, 100], w: 60, title: '억원', zeroLine: true })
  } }
});
legend('c4', 28, 662, 'dot', cashSeries.map(s => [s[0], s[2]]));

// ---------------- PER / PBR / ROE ----------------
make('c5', 'per', [21, 109, 471, 89], { r: 45 }, { y: { minor: 5 } }, {
  type: 'line',
  data: { datasets: [line(stepPts(perSteps), '#000', { stepped: true, borderWidth: 1.4 })] },
  options: { scales: {
    x: xScale({ min: -2.13, max: 45.13, ticks: valTicks }),
    y: yScale({ min: 86.2, max: 218.7, ticks: [100, 120, 140, 160, 180, 200], w: 45 })
  } }
});
legend('c5', 26, 114, 'line', [['PER', '#666']]);
make('c5', 'pbr', [21, 209, 471, 89], { r: 45 }, { y: { minor: 5 } }, {
  type: 'line',
  data: { datasets: [line(xyPts(pbrX, pbrY), '#000', { borderWidth: 1.1 })] },
  options: { scales: {
    x: xScale({ min: -4.46, max: 94.35, ticks: [0, 10, 20, 30, 40, 50, 60, 70, 80, 90] }),
    y: yScale({ min: 0.36, max: 1.551, ticks: [0.4, 0.6, 0.8, 1, 1.2, 1.4], w: 45, fmt: v => String(+v.toFixed(2)) })
  } }
});
legend('c5', 26, 214, 'line', [['PBR', '#666']]);
make('c5', 'roe', [21, 309, 471, 86], { r: 45, b: 55 }, { y: { minor: 5 }, x: { labels: valTickLabels } }, {
  type: 'line',
  data: { datasets: [line(stepPts(roeSteps), '#4a4a4a', { stepped: true, borderWidth: 2 })] },
  options: { scales: {
    x: xScale({ min: -2.13, max: 45.13, ticks: valTicks, h: 55 }),
    y: yScale({ min: 0.4422, max: 0.4508, ticks: [0.444, 0.446, 0.448, 0.450], w: 45, fmt: v => v.toFixed(2) })
  } }
});
legend('c5', 26, 314, 'line', [['ROE', '#666']]);

// ---------------- 공매도 ----------------
make('c6', 'shortbal', [21, 62, 477, 90], {}, null, {
  type: 'line',
  data: { datasets: [{ label: '공매도 잔고', data: [] }] },
  options: { scales: { x: { display: false }, y: { display: false } } }
});
legend('c6', 26, 67, 'line', [['공매도 잔고', '#666']]);
make('c6', 'short', [21, 162, 477, 86], { r: 35, b: 55 }, { y: { minor: 5 }, x: { labels: shortTickLabels } }, {
  type: 'bar',
  data: { datasets: [{ data: idxPts(shortRatio), backgroundColor: '#0000ff', barPercentage: 0.55, categoryPercentage: 1 }] },
  options: { scales: {
    x: xScale({ min: -3.24, max: 62.28, ticks: shortTicks, h: 55 }),
    y: yScale({ min: -0.3, max: 7.35, ticks: [0, 1, 2, 3, 4, 5, 6, 7], w: 35, fmt: v => v + '%' })
  } }
});
legend('c6', 26, 167, 'rect', [['공매도', '#0000ff']]);

// ---------------- 기관/외국인/개인 ----------------
function flowChart(id, plot, ext, ys, yo, xo, axes) {
  make('c7', id, plot, ext, axes, {
    type: 'bar',
    data: { datasets: [{ data: idxPts(ys.map(v => v * 1000)), backgroundColor: signColors(ys), barPercentage: 0.9, categoryPercentage: 1 }] },
    options: { scales: { x: xScale(xo), y: yScale(yo) } }
  });
}
flowChart('indiv', [23, 84, 448, 117], { r: 62 }, flowIndiv,
  { min: -160000, max: 467000, ticks: [-100000, 0, 100000, 200000, 300000, 400000], w: 62 },
  { min: -12.2, max: 252.4, ticks: flowGrid }, { y: { minor: 5 } });
flowChart('inst', [23, 234, 448, 117], { r: 62 }, flowInst,
  { min: -173000, max: 24000, ticks: [-150000, -100000, -50000, 0], w: 62 },
  { min: -12.2, max: 252.4, ticks: flowGrid }, { y: { minor: 5 } });
flowChart('foreign', [23, 384, 448, 113], { r: 62, b: 55 }, flowForeign,
  { min: -364000, max: 158000, ticks: [-300000, -200000, -100000, 0, 100000], w: 62 },
  { min: -12.2, max: 252.4, ticks: flowTicks, h: 55 }, { y: { minor: 5 }, x: { labels: flowTickLabels } });

// ---------------- 일봉수급점수 ----------------
make('c8', 'score', [52, 62, 471, 119], { l: 45, b: 30 }, { y: { minor: 5, side: 'left' }, x: {} }, {
  type: 'bar',
  data: { labels: scoreLabels, datasets: [{ data: scoreValues, backgroundColor: '#ff0000', barPercentage: 0.9, categoryPercentage: 1 }] },
  options: { scales: {
    x: {
      type: 'category', offset: true,
      afterFit: s => { s.height = 30; s.paddingLeft = 0; s.paddingRight = 0; },
      grid: { drawTicks: false, color: '#e5e5e5', offset: false },
      border: { display: false },
      ticks: { padding: 12, color: '#444', font: { size: 12, family: '"Liberation Sans", "Noto Sans CJK KR", sans-serif' } }
    },
    y: yScale({ left: true, min: -0.003, max: 0.0734, ticks: [0, 0.01, 0.02, 0.03, 0.04, 0.05, 0.06, 0.07], w: 45, fmt: v => (v === 0 ? '0' : v.toFixed(2)) })
  } }
});

// ---------------- 종목랭킹 table ----------------
const tbody = document.querySelector('#rank tbody');
rankNames.forEach((name, i) => {
  const mv = rankMoves[i];
  const mvHtml = mv > 0 ? `<span class="mv" style="color:#ff0000">▲${mv}</span>`
    : mv < 0 ? `<span class="mv" style="color:#0000ff">▼${-mv}</span>` : '-';
  const dc = rankDayChg[i], rt = rankReturn[i];
  const tr = document.createElement('tr');
  tr.innerHTML = `<td style="padding-left:4px">${i + 1}</td><td style="padding-left:4px">${mvHtml}</td>` +
    `<td class="nm">${name}</td>` +
    `<td class="c" style="color:${dc >= 0 ? '#ff0000' : '#0000ff'}">${dc}%</td>` +
    `<td class="c" style="color:${rt >= 0 ? '#ff0000' : '#0000ff'}">${rt >= 0 ? '+' : ''}${rt.toFixed(2)}%</td>`;
  tbody.appendChild(tr);
});
</script>
</body>
</html>
